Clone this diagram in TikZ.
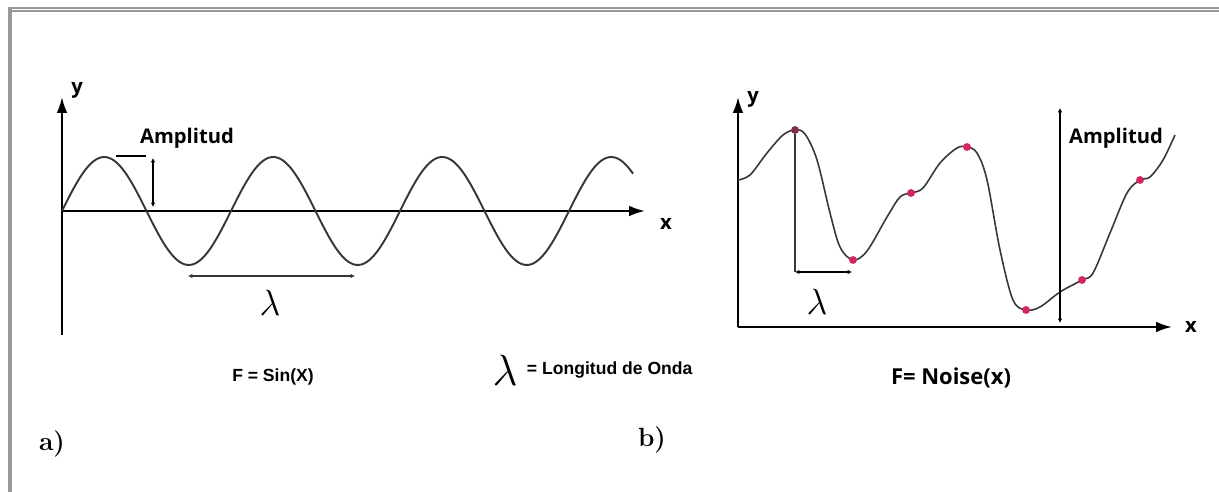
\documentclass[tikz,border=0pt]{standalone}
\usepackage{fontspec}
\newfontfamily\labelfont{Open Sans}
\newfontfamily\arialfont{Liberation Sans}
\usepackage{tikz}
\usetikzlibrary{arrows.meta,positioning}
\definecolor{framegray}{RGB}{152,152,152}
\definecolor{curvegray}{RGB}{55,55,55}
\definecolor{dotred}{RGB}{212,40,92}
\tikzset{
    axis/.style = {line width=1.2pt, -{Latex[length=9pt,width=6pt]}},
    wave/.style = {line width=1.1pt, draw=curvegray},
    noisecurve/.style = {line width=0.9pt, draw=curvegray},
    measure/.style = {line width=1.3pt, {Latex[length=2.5pt,width=2.6pt]}-{Latex[length=2.5pt,width=2.6pt]}},
    thinmeasure/.style = {line width=0.8pt, {Latex[length=2.5pt,width=2.6pt]}-{Latex[length=2.5pt,width=2.6pt]}},
    axislabel/.style = {font=\labelfont\bfseries\fontsize{11.5}{12}\selectfont, inner sep=0pt},
    caption/.style = {font=\arialfont\bfseries\fontsize{10}{10}\selectfont, inner sep=0pt},
    noisecaption/.style = {font=\labelfont\bfseries\fontsize{12.5}{12}\selectfont, inner sep=0pt},
    lambdalabel/.style = {font=\fontsize{22}{22}\selectfont, inner sep=0pt},
    panel/.style = {font=\bfseries\fontsize{15}{15}\selectfont, inner sep=0pt},
    point/.style = {circle, fill=dotred, inner sep=0pt, minimum size=4.5pt}
}
\begin{document}
\begin{tikzpicture}[x=0.02cm, y=-0.02cm]
    \useasboundingbox (0,0) rectangle (1219,492);
    % frame
    \draw [framegray, line width=1.1pt] (8,7.7) -- (1219,7.7);
    \draw [framegray, line width=1.1pt] (12,11) -- (1219,11);
    \draw [framegray, line width=2.3pt] (10,6.7) -- (10,492);

    % a) sine
    \coordinate (orig1) at (62,211);
    \coordinate (ybot1) at (62,335);
    \coordinate (ytop1) at (62,97);
    \coordinate (xend1) at (645,211);
    \draw [axis] (ybot1) -- (ytop1);
    \draw [axis] (orig1) -- (xend1);
    \node [axislabel] (ylab1) at (77,90) {y};
    \node [axislabel] (xlab1) at (666,224) {x};
    \draw [wave] plot[domain=0:571, samples=220] ({62+\x},{211-54*sin(\x/169*360)});

    \coordinate (bar1a) at (116,156);
    \coordinate (bar1b) at (146,156);
    \coordinate (amp1top) at (153,158);
    \coordinate (amp1bot) at (153,207);
    \draw [line width=1.4pt] (bar1a) -- (bar1b);
    \draw [measure] (amp1top) -- (amp1bot);
    \node [axislabel] (amp1) at (187,138) {Amplitud};

    \coordinate (lam1a) at (188,276);
    \coordinate (lam1b) at (355,276);
    \draw [measure, curvegray] (lam1a) -- (lam1b);
    \node [lambdalabel] (lam1) at (270,303) {$\lambda$};

    \node [caption] (sinf) at (273,377) {F = Sin(X)};
    \node [lambdalabel, font=\fontsize{24}{24}\selectfont] (lamleg) at (505,370) {$\lambda$};
    \node [caption, right=5pt of lamleg] (legend) {= Longitud de Onda};
    \node [panel] (pa) at (52,444) {a)};

    % b) noise
    \coordinate (orig2) at (738,327);
    \coordinate (ytop2) at (738,97);
    \coordinate (xend2) at (1172,327);
    \draw [axis] (orig2) -- (ytop2);
    \draw [axis] (orig2) -- (xend2);
    \node [axislabel] (ylab2) at (753,99) {y};
    \node [axislabel] (xlab2) at (1191,327) {x};
    \draw [noisecurve] plot[smooth, tension=0.55] coordinates {
        (738,180) (750,175) (767,153) (783,135) (795,130) (805,134) (817,160)
        (830,213) (840,247) (853,260) (867,251) (887,217) (900,197) (911,193)
        (923,188) (940,163) (957,148) (967,147) (977,153) (987,180) (1000,250)
        (1013,300) (1026,310) (1040,307) (1060,292) (1082,280) (1093,273)
        (1110,233) (1127,193) (1140,180) (1150,177) (1163,160) (1175,135)};

    \node [point, fill=dotred!45!curvegray] (top) at (795,130) {};
    \node [point] (p1) at (853,260) {};
    \node [point] (p2) at (911,193) {};
    \node [point] (p3) at (967,147) {};
    \node [point] (p4) at (1026,310) {};
    \node [point] (p5) at (1082,280) {};
    \node [point] (p6) at (1140,180) {};

    \coordinate (lam2foot) at (795,272);
    \coordinate (lam2end) at (852,272);
    \draw [line width=0.6pt, curvegray] (top) -- (lam2foot);
    \draw [thinmeasure] (lam2foot) -- (lam2end);
    \node [lambdalabel, font=\fontsize{20}{20}\selectfont] (lam2) at (817,302) {$\lambda$};

    \coordinate (amp2top) at (1060,108);
    \coordinate (amp2bot) at (1060,323);
    \draw [thinmeasure] (amp2top) -- (amp2bot);
    \node [axislabel] (amp2) at (1116,138) {Amplitud};

    \node [noisecaption] (noisef) at (951,378) {F= Noise(x)};
    \node [panel] (pb) at (652,440) {b)};
\end{tikzpicture}
\end{document}
